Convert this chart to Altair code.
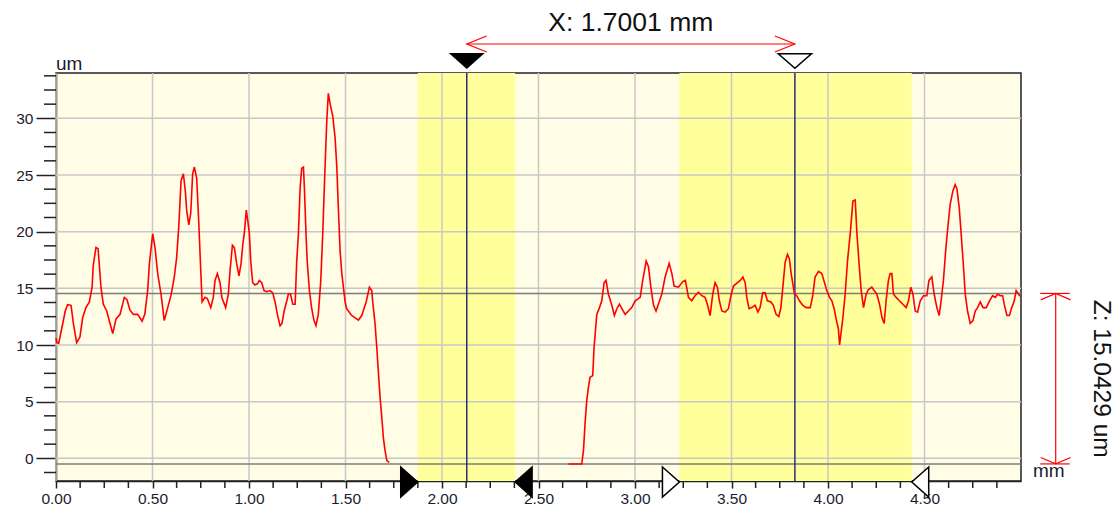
import altair as alt
import pandas as pd

# Surface profile (x in mm, height in um), left of the groove
left_x = [0.000, 0.005, 0.014, 0.035, 0.048, 0.060, 0.078, 0.090, 0.107, 0.124,
          0.138, 0.155, 0.173, 0.187, 0.193, 0.207, 0.218, 0.233, 0.245, 0.263,
          0.280, 0.294, 0.311, 0.332, 0.354, 0.368, 0.383, 0.401, 0.423, 0.446,
          0.460, 0.475, 0.484, 0.501, 0.513, 0.527, 0.544, 0.561, 0.579, 0.596,
          0.613, 0.625, 0.636, 0.648, 0.660, 0.670, 0.677, 0.688, 0.698, 0.708,
          0.717, 0.729, 0.739, 0.748, 0.757, 0.772, 0.784, 0.802, 0.815, 0.824,
          0.836, 0.850, 0.859, 0.879, 0.893, 0.902, 0.914, 0.924, 0.936, 0.948,
          0.959, 0.968, 0.976, 0.986, 0.995, 1.002, 1.009, 1.019, 1.031, 1.043,
          1.054, 1.066, 1.078, 1.092, 1.109, 1.123, 1.135, 1.147, 1.161, 1.171,
          1.182, 1.196, 1.204, 1.215, 1.227, 1.239, 1.247, 1.256, 1.265, 1.273,
          1.282, 1.287, 1.296, 1.302, 1.313, 1.325, 1.337, 1.347, 1.359, 1.372,
          1.382, 1.394, 1.403, 1.411, 1.420, 1.434, 1.446, 1.455, 1.463, 1.472,
          1.481, 1.489, 1.498, 1.506, 1.532, 1.567, 1.584, 1.607, 1.624, 1.636,
          1.641, 1.653, 1.662, 1.670, 1.679, 1.688, 1.696, 1.705, 1.714, 1.727]
left_z = [10.6, 10.2, 10.15, 11.9, 13.0, 13.56, 13.5, 11.9, 10.2, 10.7,
          12.4, 13.3, 13.8, 15.1, 17.0, 18.6, 18.5, 15.1, 13.6, 13.0,
          11.9, 11.0, 12.3, 12.7, 14.2, 14.0, 13.1, 12.7, 12.7, 12.1,
          12.7, 14.8, 17.2, 19.8, 18.6, 16.3, 14.5, 12.15, 13.3, 14.4,
          16.0, 17.7, 20.4, 24.5, 25.1, 23.6, 21.9, 20.6, 21.6, 25.1,
          25.7, 24.7, 21.1, 17.4, 13.8, 14.2, 14.1, 13.3, 14.2, 15.7,
          16.3, 15.5, 14.2, 13.3, 14.5, 16.6, 18.8, 18.6, 17.2, 16.1,
          17.2, 18.9, 19.9, 21.9, 20.8, 19.8, 17.4, 15.5, 15.3, 15.4,
          15.7, 15.5, 14.8, 14.7, 14.8, 14.6, 13.8, 12.7, 11.7, 11.9,
          13.0, 13.9, 14.5, 14.5, 13.6, 13.6, 17.3, 19.8, 23.9, 25.6,
          25.7, 23.9, 19.5, 17.3, 14.8, 13.2, 12.15, 11.7, 12.7, 15.7,
          19.8, 25.7, 29.8, 32.2, 31.3, 30.2, 28.3, 25.7, 22.1, 18.3,
          16.3, 15.1, 13.8, 13.2, 12.6, 12.2, 12.6, 13.8, 15.1, 14.8,
          13.8, 11.9, 9.8, 7.7, 5.4, 3.6, 1.85, 0.68, -0.2, -0.35]

# Surface profile right of the groove
right_x = [2.655, 2.724, 2.733, 2.741, 2.750, 2.759, 2.767, 2.781, 2.788, 2.802,
           2.816, 2.828, 2.840, 2.850, 2.862, 2.880, 2.893, 2.906, 2.919, 2.932,
           2.949, 2.966, 2.983, 3.001, 3.027, 3.040, 3.058, 3.070, 3.082, 3.096,
           3.109, 3.121, 3.139, 3.156, 3.177, 3.191, 3.203, 3.225, 3.248, 3.261,
           3.277, 3.294, 3.311, 3.329, 3.346, 3.363, 3.375, 3.389, 3.403, 3.415,
           3.427, 3.437, 3.450, 3.467, 3.484, 3.497, 3.510, 3.531, 3.545, 3.559,
           3.571, 3.579, 3.591, 3.605, 3.622, 3.637, 3.648, 3.662, 3.674, 3.686,
           3.704, 3.717, 3.731, 3.745, 3.756, 3.766, 3.778, 3.790, 3.800, 3.809,
           3.818, 3.826, 3.838, 3.852, 3.870, 3.887, 3.908, 3.921, 3.933, 3.951,
           3.968, 3.982, 3.994, 4.008, 4.020, 4.032, 4.042, 4.054, 4.060, 4.077,
           4.089, 4.101, 4.115, 4.129, 4.141, 4.150, 4.160, 4.172, 4.184, 4.198,
           4.210, 4.227, 4.239, 4.253, 4.267, 4.280, 4.291, 4.301, 4.313, 4.322,
           4.331, 4.339, 4.353, 4.370, 4.388, 4.405, 4.417, 4.429, 4.440, 4.452,
           4.464, 4.478, 4.495, 4.512, 4.523, 4.538, 4.550, 4.564, 4.576, 4.586,
           4.598, 4.611, 4.621, 4.633, 4.647, 4.659, 4.668, 4.680, 4.690, 4.702,
           4.711, 4.723, 4.737, 4.751, 4.763, 4.775, 4.789, 4.803, 4.820, 4.837,
           4.853, 4.867, 4.879, 4.892, 4.905, 4.913, 4.927, 4.940, 4.952, 4.965,
           4.975, 4.987, 4.995]
right_z = [-0.5, -0.5, 0.68, 3.0, 5.1, 6.3, 7.15, 7.3, 9.8, 12.7,
           13.3, 13.9, 15.5, 15.7, 14.5, 13.5, 12.6, 13.2, 13.6, 13.2,
           12.7, 13.0, 13.3, 13.9, 14.2, 15.7, 17.4, 16.9, 15.1, 13.5,
           13.0, 13.6, 14.5, 16.0, 17.2, 16.3, 15.2, 15.1, 15.6, 15.7,
           14.2, 13.9, 14.35, 14.65, 14.35, 14.2, 13.6, 12.6, 14.5, 15.5,
           15.1, 13.9, 13.0, 12.9, 13.2, 14.35, 15.2, 15.5, 15.7, 16.0,
           15.5, 14.2, 13.2, 13.3, 13.5, 12.9, 13.3, 14.6, 14.6, 13.9,
           13.8, 13.5, 12.7, 12.5, 13.3, 15.1, 17.3, 18.0, 17.6, 16.3,
           15.4, 14.5, 14.35, 13.9, 13.5, 13.3, 13.3, 14.35, 16.0, 16.5,
           16.3, 15.5, 14.8, 14.2, 13.9, 13.2, 12.3, 11.4, 10.0, 12.4,
           14.5, 17.4, 19.8, 22.7, 22.8, 19.8, 17.4, 14.8, 13.3, 14.5,
           14.9, 15.1, 14.8, 14.5, 13.6, 12.4, 11.9, 13.9, 15.7, 16.3,
           16.3, 14.5, 14.2, 13.9, 13.6, 13.3, 13.9, 15.1, 14.5, 13.0,
           12.9, 13.9, 14.35, 14.35, 15.7, 16.0, 14.5, 13.3, 12.6, 13.9,
           15.7, 18.6, 20.4, 22.4, 23.6, 24.15, 23.8, 22.1, 19.8, 16.9,
           14.5, 13.0, 11.9, 12.15, 13.0, 13.3, 13.8, 13.3, 13.3, 13.9,
           14.35, 14.2, 14.5, 14.35, 14.35, 13.6, 12.6, 12.6, 13.3, 13.9,
           14.8, 14.5, 14.3]

# Highlighted evaluation bands (mm)
band_start = [1.874, 3.230]
band_end = [2.379, 4.434]

# Measurement cursors (mm) and reference levels (um)
cursor_x = [2.1283, 3.8284]
level_z = [14.55, -0.4929]

# Axis ticks
x_major = [0.0, 0.5, 1.0, 1.5, 2.0, 2.5, 3.0, 3.5, 4.0, 4.5]
y_major = [0, 5, 10, 15, 20, 25, 30]
x_minor = [i * 0.125 for i in range(1, 40) if i % 4 != 0]
y_minor = [-1.25] + [k * 1.25 for k in range(1, 28) if k % 4 != 0]

x_label = f"X: {cursor_x[1] - cursor_x[0]:.4f} mm"
z_label = f"Z: {level_z[0] - level_z[1]:.4f} um"

FONT = "Liberation Sans"
INK = "#1c1c2c"
RED = "#ff0000"
W, H = 965, 408

xscale = alt.Scale(domain=[0, 5], nice=False, zero=False)
yscale = alt.Scale(domain=[-2, 34], nice=False, zero=False)
xaxis = alt.Axis(values=x_major, format=".2f", tickSize=7, tickColor="#222",
                 tickWidth=1.5, domainColor="#222", domainWidth=1.5, grid=False,
                 labelFont=FONT, labelFontSize=15.5, labelColor=INK,
                 labelPadding=3, labelFlush=False)
yaxis = alt.Axis(values=y_major, tickSize=20, tickColor="#222", tickWidth=1.5,
                 domainColor="#222", domainWidth=1.5, grid=False,
                 labelFont=FONT, labelFontSize=15.5, labelColor=INK,
                 labelPadding=3)


def X(field):
    return alt.X(f"{field}:Q", scale=xscale, axis=xaxis, title=None)


def Y(field):
    return alt.Y(f"{field}:Q", scale=yscale, axis=yaxis, title=None)


profile = pd.concat([
    pd.DataFrame({"x": left_x, "z": left_z, "seg": "a"}),
    pd.DataFrame({"x": right_x, "z": right_z, "seg": "b"}),
])
bands = pd.DataFrame({"start": band_start, "end": band_end})
xgrid = pd.DataFrame({"v": x_major})
ygrid = pd.DataFrame({"v": y_major})
levels = pd.DataFrame({"z": level_z})
cursors = pd.DataFrame({"x": cursor_x})

band_layer = alt.Chart(bands).mark_rect(color="#ffff9c").encode(
    x=X("start"), x2="end", y=alt.value(0), y2=alt.value(H))
xgrid_layer = alt.Chart(xgrid).mark_rule(color="#c8c8c8", strokeWidth=1.5).encode(x=X("v"))
ygrid_layer = alt.Chart(ygrid).mark_rule(color="#c8c8c8", strokeWidth=1.5).encode(y=Y("v"))
level_layer = alt.Chart(levels).mark_rule(color="#7c7c7c", strokeWidth=1.5).encode(y=Y("z"))
cursor_layer = alt.Chart(cursors).mark_rule(color="#2e2e78", strokeWidth=1.5).encode(x=X("x"))
line_layer = alt.Chart(profile).mark_line(color=RED, strokeWidth=1.6).encode(
    x=X("x"), y=Y("z"), detail="seg:N")

xminor_layer = alt.Chart(pd.DataFrame({"v": x_minor})).mark_rule(
    color="#222", strokeWidth=1.5).encode(x=X("v"), y=alt.value(H), y2=alt.value(H + 7))
yminor_layer = alt.Chart(pd.DataFrame({"v": y_minor})).mark_rule(
    color="#222", strokeWidth=1.5).encode(y=Y("v"), x=alt.value(-12), x2=alt.value(0))

# Cursor markers above the plot
TRI_DOWN = "M -1,-0.44 L 1,-0.44 L 0,0.44 Z"
cur_a = alt.Chart(pd.DataFrame({"x": cursor_x[:1]})).mark_point(
    shape=TRI_DOWN, size=1296, filled=True, color="#000", opacity=1).encode(
    x=X("x"), y=alt.value(-12))
cur_b = alt.Chart(pd.DataFrame({"x": cursor_x[1:]})).mark_point(
    shape=TRI_DOWN, size=1100, filled=True, fill="#fff", stroke="#000",
    strokeWidth=1.5, opacity=1).encode(x=X("x"), y=alt.value(-12))

# Band edge markers on the x axis
TRI_RIGHT = "M -1.13,-1 L 0,0 L -1.13,1 Z"
TRI_LEFT = "M 1.13,-1 L 0,0 L 1.13,1 Z"


def edge_marker(value, path, solid):
    props = dict(shape=path, size=900, filled=True, opacity=1,
                 stroke="#000", strokeWidth=1.5)
    props["fill"] = "#000" if solid else "#fff"
    return alt.Chart(pd.DataFrame({"x": [value]})).mark_point(**props).encode(
        x=X("x"), y=alt.value(H + 1))


edges = [
    edge_marker(band_start[0], TRI_RIGHT, True),
    edge_marker(band_end[0], TRI_LEFT, True),
    edge_marker(band_start[1], TRI_RIGHT, False),
    edge_marker(band_end[1], TRI_LEFT, False),
]

# Horizontal distance arrow between cursors
x_arrow = alt.Chart(pd.DataFrame({"a": cursor_x[:1], "b": cursor_x[1:]})).mark_rule(
    color=RED, strokeWidth=1.2).encode(x=X("a"), x2="b", y=alt.value(-29))
x_head_l = alt.Chart(pd.DataFrame({"x": cursor_x[:1]})).mark_point(
    shape="M 1,-0.4 L 0,0 L 1,0.4", size=1600, filled=False, color=RED,
    strokeWidth=1.2, opacity=1).encode(x=X("x"), y=alt.value(-29))
x_head_r = alt.Chart(pd.DataFrame({"x": cursor_x[1:]})).mark_point(
    shape="M -1,-0.4 L 0,0 L -1,0.4", size=1600, filled=False, color=RED,
    strokeWidth=1.2, opacity=1).encode(x=X("x"), y=alt.value(-29))
x_text = alt.Chart(pd.DataFrame({"x": [(cursor_x[0] + cursor_x[1]) / 2], "t": [x_label]})).mark_text(
    font=FONT, fontSize=26.5, color="#111", baseline="middle").encode(
    x=X("x"), y=alt.value(-50), text="t:N")

# Vertical height arrow between the reference levels
ZX = 999.7
z_arrow = alt.Chart(pd.DataFrame({"a": level_z[:1], "b": level_z[1:]})).mark_rule(
    color=RED, strokeWidth=1.2).encode(x=alt.value(ZX), y=Y("a"), y2="b")
z_caps = alt.Chart(levels).mark_rule(color=RED, strokeWidth=1.2).encode(
    y=Y("z"), x=alt.value(ZX - 15.5), x2=alt.value(ZX + 14))
z_head_t = alt.Chart(pd.DataFrame({"z": level_z[:1]})).mark_point(
    shape="M -0.88,0.38 L 0,0 L 0.88,0.38", size=1156, filled=False, color=RED,
    strokeWidth=1.2, opacity=1).encode(x=alt.value(ZX), y=Y("z"))
z_head_b = alt.Chart(pd.DataFrame({"z": level_z[1:]})).mark_point(
    shape="M -0.88,-0.38 L 0,0 L 0.88,-0.38", size=1156, filled=False, color=RED,
    strokeWidth=1.2, opacity=1).encode(x=alt.value(ZX), y=Y("z"))
z_text = alt.Chart(pd.DataFrame({"z": [(level_z[0] + level_z[1]) / 2], "t": [z_label]})).mark_text(
    font=FONT, fontSize=24.5, color="#111", angle=90, baseline="middle").encode(
    x=alt.value(1045), y=Y("z"), text="t:N")

# Unit labels
one = pd.DataFrame({"t": ["um", "mm"]})
um_text = alt.Chart(one.iloc[:1]).mark_text(
    font=FONT, fontSize=19, color=INK, align="left", baseline="alphabetic").encode(
    x=alt.value(0), y=alt.value(-3.5), text="t:N")
mm_text = alt.Chart(one.iloc[1:]).mark_text(
    font=FONT, fontSize=19, color=INK, align="left", baseline="alphabetic").encode(
    x=alt.value(977), y=alt.value(404), text="t:N")

chart = alt.layer(
    band_layer, xgrid_layer, ygrid_layer, level_layer, cursor_layer, line_layer,
    xminor_layer, yminor_layer, cur_a, cur_b, *edges,
    x_arrow, x_head_l, x_head_r, x_text,
    z_arrow, z_caps, z_head_t, z_head_b, z_text, um_text, mm_text,
).properties(
    width=W, height=H,
    autosize=alt.AutoSizeParams(type="none"),
    padding={"left": 56, "top": 73, "right": 99, "bottom": 28},
    background="#ffffff",
).configure_view(
    fill="#fffde6", stroke="#222", strokeWidth=1.5,
)

chart.save("out.html", embed_options={"renderer": "svg", "actions": False})
